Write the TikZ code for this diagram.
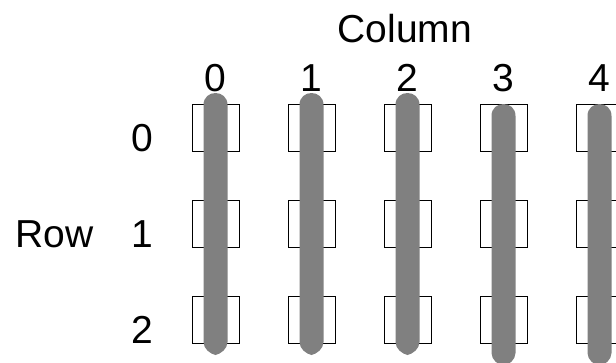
\documentclass[tikz,border=0pt]{standalone}
\usepackage{fontspec}
\setmainfont{Liberation Sans}
\definecolor{bargray}{HTML}{808080}
\newcommand\drawbar[3]{%
  \fill[bargray] (#1-12,#2+12) .. controls (#1-12,#2+4) and (#1-6,#2) .. (#1,#2)
    .. controls (#1+6,#2) and (#1+12,#2+4) .. (#1+12,#2+12)
    -- (#1+12,#3-13) .. controls (#1+12,#3-6) and (#1+5,#3-1) .. (#1,#3)
    .. controls (#1-5,#3-1) and (#1-12,#3-6) .. (#1-12,#3-13) -- cycle;}
\begin{document}
\begin{tikzpicture}[x=1pt,y=-1pt,
  cell/.style={draw=black,fill=white,line width=1pt,minimum width=47pt,minimum height=47pt,inner sep=0pt,rectangle},
  lbl/.style={inner sep=0pt,anchor=base,font=\fontsize{39}{47}\selectfont}]
\useasboundingbox (0,0) rectangle (616,362);
\clip (0,0) rectangle (616,362);
\node[lbl] (colhead) at (405,42) {Column};
\node[lbl] (rowhead) at (54.5,247.5) {Row};
\foreach \c in {0,...,4} {
  \node[lbl] (c\c) at (215.5+96*\c,91) {\c};
}
\foreach \r in {0,1,2} {
  \node[lbl] (r\r) at (142.5,151.5+96*\r) {\r};
  \foreach \c in {0,...,4} {
    \node[cell] (b\r\c) at (215.5+96*\c,127.5+96*\r) {};
  }
}
\drawbar{215.5}{93}{355}
\drawbar{311.5}{93}{355}
\drawbar{407.5}{93}{355}
\drawbar{503.5}{104}{366}
\drawbar{599.5}{104}{366}
\end{tikzpicture}
\end{document}
